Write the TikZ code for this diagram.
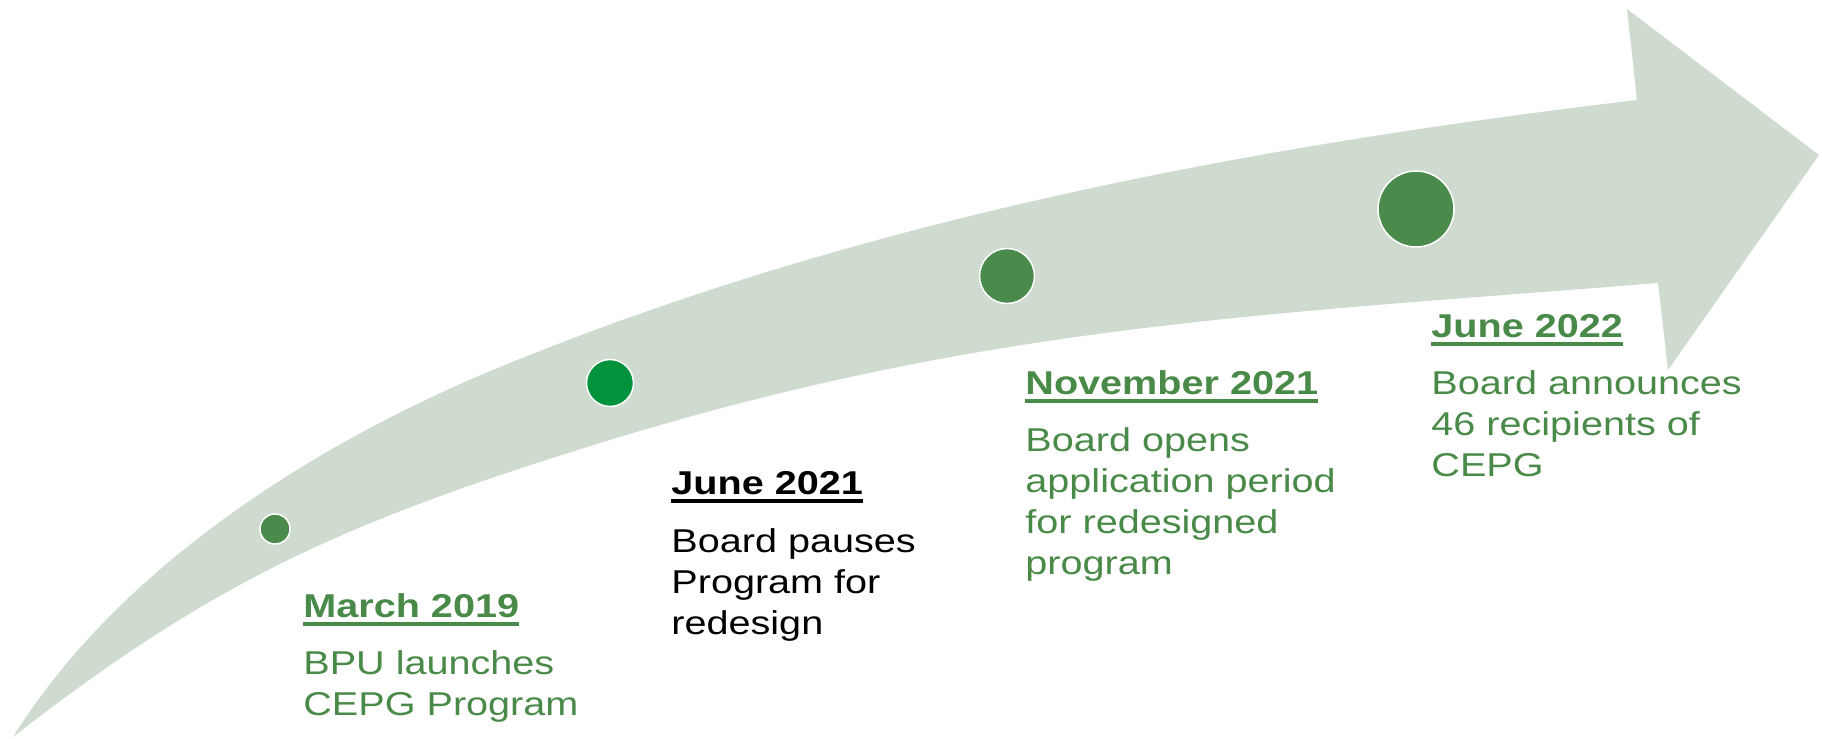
\documentclass[tikz,border=0pt]{standalone}
\usepackage{fontspec}
\setmainfont{Liberation Sans}[FakeStretch=1.2]
\usepackage{tikz}
\definecolor{bandgreen}{RGB}{207,219,207}
\definecolor{dotgreen}{RGB}{74,138,74}
\definecolor{brightgreen}{RGB}{0,146,60}
\definecolor{textgreen}{RGB}{74,138,72}
\newcommand{\datehead}[1]{\setbox0\hbox{\bfseries #1}\rlap{\rule[-4.5pt]{\wd0}{2pt}}\box0}
\tikzset{
  milestone/.style={circle, draw=white, line width=.75pt, inner sep=0, fill=dotgreen},
  eventtext/.style={anchor=north west, align=left, inner sep=0, text=textgreen,
    font=\fontsize{16.5}{20.5}\selectfont}
}

\begin{document}
\begin{tikzpicture}[x=0.5pt, y=-0.5pt]
\useasboundingbox (0,0) rectangle (1822,739);
\fill[bandgreen] (13,737) .. controls (119,567) and (315,443) .. (500,367)
  .. controls (861,219) and (1250,146) .. (1637,100)
  -- (1627,9) -- (1819,155) -- (1668,370) -- (1658,283)
  .. controls (1259,315) and (982,325) .. (600,443)
  .. controls (352,520) and (218,577) .. (13,737) -- cycle;
\foreach \cx/\cy/\d/\nm in {275/529/15/dotA, 1007/276/27.5/dotC, 1416/209/38/dotD} {
  \node[milestone, minimum size=\d pt] (\nm) at (\cx,\cy) {};
}
\node[milestone, fill=brightgreen, minimum size=23.5pt] (dotB) at (610,383) {};
\node[eventtext] (mar19) at (303,593) {\datehead{March 2019}\\[8pt] BPU launches\\ CEPG Program};
\node[eventtext, text=black] (jun21) at (671,471) {\datehead{June 2021}\\[8.5pt] Board pauses\\ Program for\\ redesign};
\node[eventtext] (nov21) at (1025,370) {\datehead{November 2021}\\[8pt] Board opens\\ application period\\ for redesigned\\ program};
\node[eventtext] (jun22) at (1431,314) {\datehead{June 2022}\\[8pt] Board announces\\ 46 recipients of\\ CEPG};
\end{tikzpicture}
\end{document}
